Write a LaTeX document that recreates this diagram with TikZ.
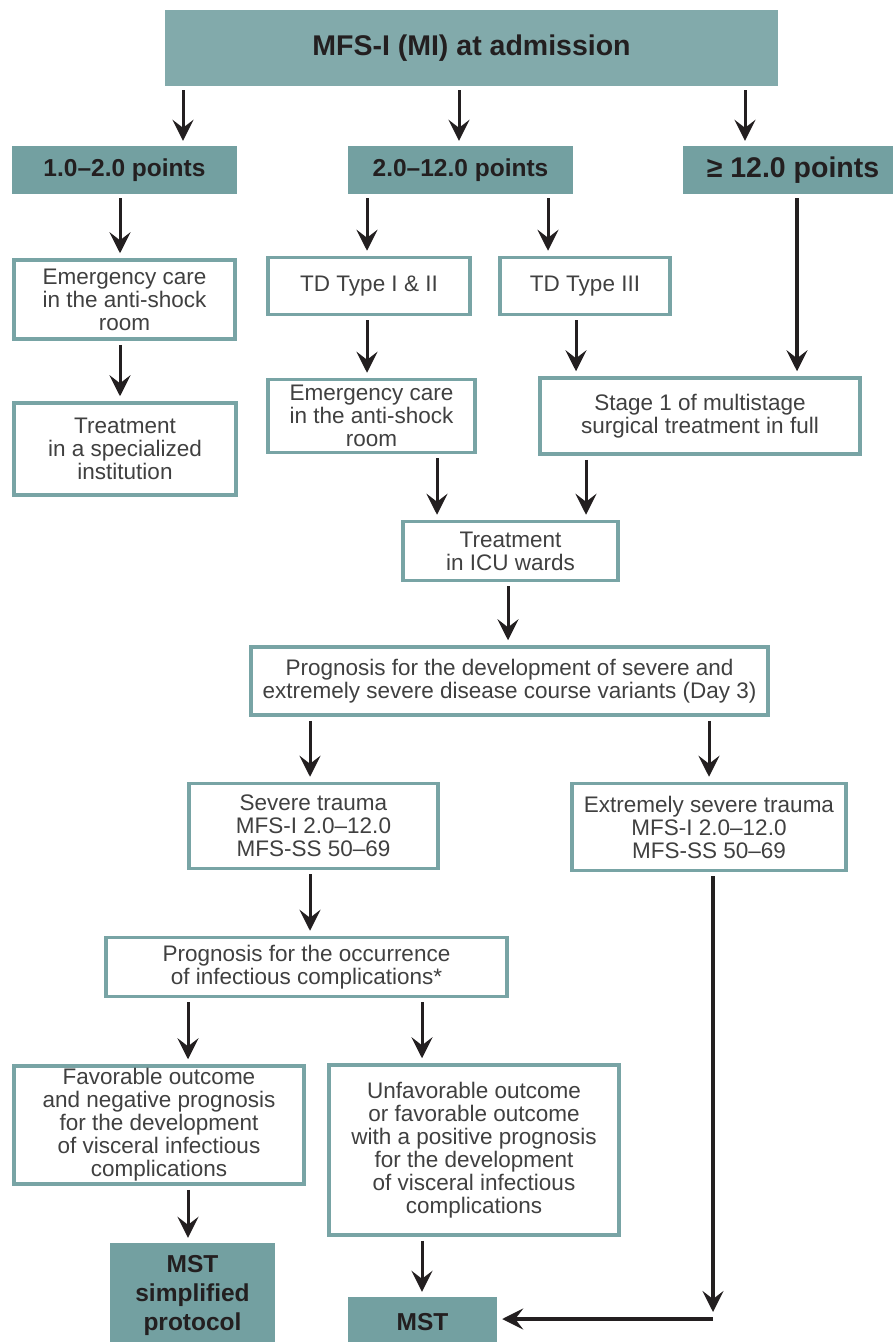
\documentclass[tikz,border=0pt]{standalone}
\usepackage{fontspec}
\setmainfont{Liberation Sans}
\usetikzlibrary{arrows.meta}
\definecolor{tealtop}{HTML}{82AAAB}
\definecolor{tealhead}{HTML}{73A0A1}
\definecolor{tealline}{HTML}{78A4A5}
\definecolor{darkink}{HTML}{231F20}
\definecolor{bodytext}{HTML}{404040}

\begin{document}
\begin{tikzpicture}[x=1pt,y=-1pt,
	outbox/.style={draw=tealline, line width=3.5pt, fill=white, inner sep=0pt, align=center, text=bodytext, font=\fontsize{22.5}{23}\selectfont},
	headbox/.style={fill=tealhead, inner sep=0pt, align=center, text=darkink, font=\fontsize{24.5}{29}\selectfont\bfseries},
	arr/.style={draw=darkink, line width=3pt, -{Stealth[length=21pt,width=21pt,inset=8pt]}, shorten <=4pt, shorten >=5pt},
	thickarr/.style={arr, line width=4pt}]
	\useasboundingbox (0,0) rectangle (893,1342);

	%header
	\node[headbox, fill=tealtop, minimum width=613pt, minimum height=76pt, font=\fontsize{28.5}{30}\selectfont\bfseries] (top) at (471.5,48) {MFS-I (MI) at admission};
	\node[headbox, minimum width=225pt, minimum height=48pt] (h1) at (124.5,170) {1.0--2.0 points};
	\node[headbox, minimum width=225pt, minimum height=48pt] (h2) at (460.5,170) {2.0--12.0 points};
	\node[headbox, minimum width=220pt, minimum height=48pt, font=\fontsize{28.5}{30}\selectfont\bfseries] (h3) at (793,170) {≥ 12.0 points};

	%boxes
	\node[outbox, minimum width=221pt, minimum height=79pt] (e1) at (124.5,299.5) {Emergency care\\in the anti-shock\\room};
	\node[outbox, minimum width=222pt, minimum height=92pt] (t1) at (125,449) {Treatment\\in a specialized\\institution};
	\node[outbox, minimum width=202pt, minimum height=57pt] (td12) at (369,286) {TD Type I \& II};
	\node[outbox, minimum width=170pt, minimum height=57pt] (td3) at (585,286) {TD Type III};
	\node[outbox, minimum width=207pt, minimum height=73pt] (e2) at (371.5,416) {Emergency care\\in the anti-shock\\room};
	\node[outbox, minimum width=320pt, minimum height=76pt] (s1) at (700,416) {Stage 1 of multistage\\surgical treatment in full};
	\node[outbox, minimum width=215pt, minimum height=59pt] (icu) at (510.5,551) {Treatment\\in ICU wards};
	\node[outbox, minimum width=517pt, minimum height=68pt] (prog1) at (509.5,681) {Prognosis for the development of severe and\\extremely severe disease course variants (Day 3)};
	\node[outbox, minimum width=249pt, minimum height=85pt] (sev) at (313.5,826) {Severe trauma\\MFS-I 2.0--12.0\\MFS-SS 50--69};
	\node[outbox, minimum width=274pt, minimum height=87pt] (esev) at (709,827) {Extremely severe trauma\\MFS-I 2.0--12.0\\MFS-SS 50--69};
	\node[outbox, minimum width=401pt, minimum height=59pt] (prog2) at (306.5,967) {Prognosis for the occurrence\\of infectious complications*};
	\node[outbox, minimum width=290pt, minimum height=118pt] (fav) at (159,1125) {Favorable outcome\\and negative prognosis\\for the development\\of visceral infectious\\complications};
	\node[outbox, minimum width=290pt, minimum height=170pt] (unfav) at (474,1150) {Unfavorable outcome\\or favorable outcome\\with a positive prognosis\\for the development\\of visceral infectious\\complications};
	\node[headbox, minimum width=165pt, minimum height=104pt] (mst1) at (192.5,1295) {MST\\simplified\\protocol};
	\node[headbox, minimum width=149pt, minimum height=50pt] (mst) at (422.5,1322) {MST};
	\coordinate (drop) at (713,1312);
	\coordinate (bend) at (713,1319);

	%arrows
	\draw[arr] (top.south -| 183,0) -- (h1.north -| 183,0);
	\draw[arr] (top.south -| 459,0) -- (h2.north -| 459,0);
	\draw[arr] (top.south -| 745,0) -- (h3.north -| 745,0);
	\draw[arr] (h1.south -| 120,0) -- (e1.north -| 120,0);
	\draw[arr] (e1.south -| 120,0) -- (t1.north -| 120,0);
	\draw[arr] (h2.south -| 367,0) -- (td12.north -| 367,0);
	\draw[arr] (h2.south -| 548,0) -- (td3.north -| 548,0);
	\draw[thickarr] (h3.south -| 797,0) -- (s1.north -| 797,0);
	\draw[arr] (td12.south -| 367,0) -- (e2.north -| 367,0);
	\draw[arr] (td3.south -| 576,0) -- (s1.north -| 576,0);
	\draw[arr] (e2.south -| 437,0) -- (icu.north -| 437,0);
	\draw[arr] (s1.south -| 586,0) -- (icu.north -| 586,0);
	\draw[arr] (icu.south -| 508,0) -- (prog1.north -| 508,0);
	\draw[arr] (prog1.south -| 310,0) -- (sev.north -| 310,0);
	\draw[arr] (prog1.south -| 709,0) -- (esev.north -| 709,0);
	\draw[arr] (sev.south -| 310,0) -- (prog2.north -| 310,0);
	\draw[arr] (prog2.south -| 188,0) -- (fav.north -| 188,0);
	\draw[arr] (prog2.south -| 422,0) -- (unfav.north -| 422,0);
	\draw[arr] (fav.south -| 188,0) -- (mst1.north -| 188,0);
	\draw[arr] (unfav.south -| 422,0) -- (mst.north -| 422,0);
	\draw[thickarr, shorten >=0pt] (esev.south -| drop) -- (drop);
	\draw[thickarr, shorten <=0pt] (bend) -- (bend -| mst.east);
\end{tikzpicture}
\end{document}
